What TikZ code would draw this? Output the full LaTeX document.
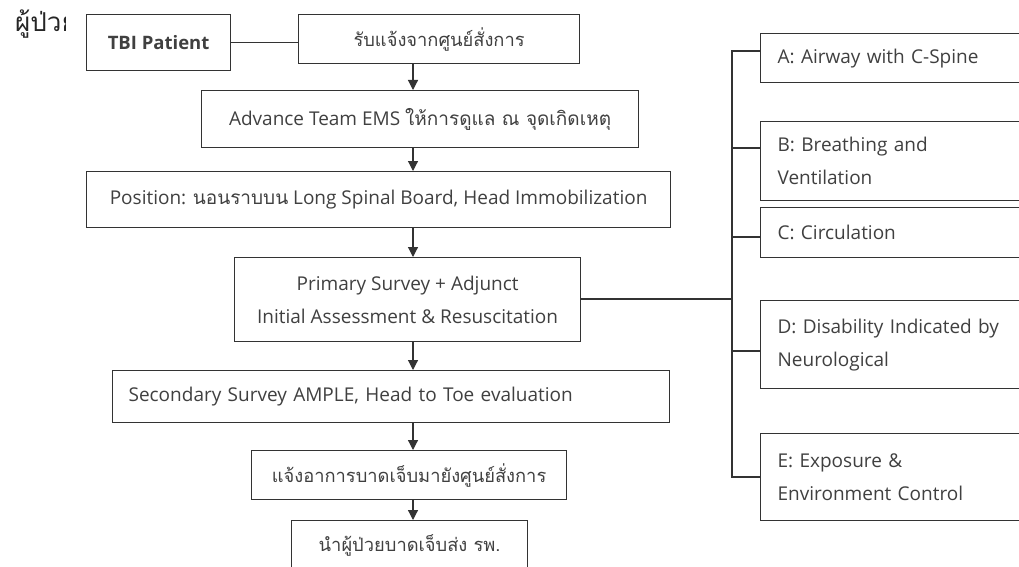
\documentclass[tikz,border=0pt]{standalone}
\usepackage{fontspec}
\setmainfont{Open Sans}
\newfontfamily\thaif[Script=Thai]{Loma}
\usetikzlibrary{arrows.meta}
\definecolor{ln}{HTML}{333333}
\definecolor{tx}{HTML}{404040}
\tikzset{
  box/.style={draw=ln, line width=1.2pt, text=tx, inner sep=0pt, anchor=north west,
    font=\fontsize{19}{33}\selectfont, align=center},
  thbox/.style={box, font={\thaif\fontsize{18.3}{33}\selectfont}},
  lbox/.style={box, align=left},
  rbox/.style={lbox, minimum width=290pt, inner xsep=17pt, text width=256pt},
  arr/.style={draw=ln, line width=1.2pt, -{Triangle[length=10pt,width=10pt]}},
  link/.style={draw=ln, line width=1.2pt},
}
\begin{document}
\begin{tikzpicture}[x=1pt,y=-1pt]
\clip (0,0) rectangle (1019,567);
\fill[white] (0,0) rectangle (1019,567);
% side label
\begin{scope}
  \clip (0,0) rectangle (65,60);
  \node[anchor=base west, inner sep=0pt, text=black!85, font={\thaif\fontsize{26}{30}\selectfont}] (lbl) at (15,32) {ผู้ป่วย};
\end{scope}
% main column
\node[box, minimum width=144pt, minimum height=56pt, font=\fontsize{18.5}{33}\selectfont\bfseries] (tbi) at (86,14) {TBI Patient};
\node[thbox, minimum width=281pt, minimum height=49pt] (rcv) at (298,14) {รับแจ้งจากศูนย์สั่งการ};
\node[box, minimum width=437pt, minimum height=57pt] (adv) at (201,90) {Advance Team EMS {\thaif ให้การดูแล ณ จุดเกิดเหตุ}};
\node[box, minimum width=584pt, minimum height=56pt] (pos) at (86,171) {Position: {\thaif นอนราบบน} Long Spinal Board, Head Immobilization};
\node[box, minimum width=346pt, minimum height=84pt] (pri) at (234,257) {Primary Survey + Adjunct\\Initial Assessment \& Resuscitation};
\node[lbox, minimum width=557pt, minimum height=52pt, inner xsep=16pt, text width=525pt] (sec) at (112,370) {Secondary Survey AMPLE, Head to Toe evaluation};
\node[thbox, minimum width=315pt, minimum height=49pt] (ntf) at (251,450) {แจ้งอาการบาดเจ็บมายังศูนย์สั่งการ};
\node[thbox, minimum width=236pt, minimum height=50pt] (hos) at (291,520) {นำผู้ป่วยบาดเจ็บส่ง รพ.};
% right column
\node[rbox, minimum height=49pt] (A) at (760,33) {A: Airway with C-Spine};
\node[rbox, minimum height=79pt] (B) at (760,121) {B: Breathing and\\Ventilation};
\node[rbox, minimum height=50pt] (C) at (760,207) {C: Circulation};
\node[rbox, minimum height=88pt] (D) at (760,300) {D: Disability Indicated by\\Neurological};
\node[rbox, minimum height=87pt] (E) at (760,433) {E: Exposure \&\\Environment Control};
% connectors
\draw[link] (tbi.east) -- (tbi.east -| rcv.west);
\coordinate (ax) at (413,0);
\draw[arr] (ax |- rcv.south) -- (ax |- adv.north);
\draw[arr] (ax |- adv.south) -- (ax |- pos.north);
\draw[arr] (ax |- pos.south) -- (ax |- pri.north);
\draw[arr] (ax |- pri.south) -- (ax |- sec.north);
\draw[arr] (ax |- sec.south) -- (ax |- ntf.north);
\draw[arr] (ax |- ntf.south) -- (ax |- hos.north);
\coordinate (bj) at (732,299);
\coordinate (ba) at (732,51);
\coordinate (bbb) at (732,148);
\coordinate (bc) at (732,237);
\coordinate (bd) at (732,351);
\coordinate (be) at (732,477);
\draw[link] (pri.east |- bj) -- (bj);
\draw[link] (ba -| A.west) -- (ba) -- (be) -- (be -| E.west);
\draw[link] (bbb) -- (bbb -| B.west);
\draw[link] (bc) -- (bc -| C.west);
\draw[link] (bd) -- (bd -| D.west);
\end{tikzpicture}
\end{document}
